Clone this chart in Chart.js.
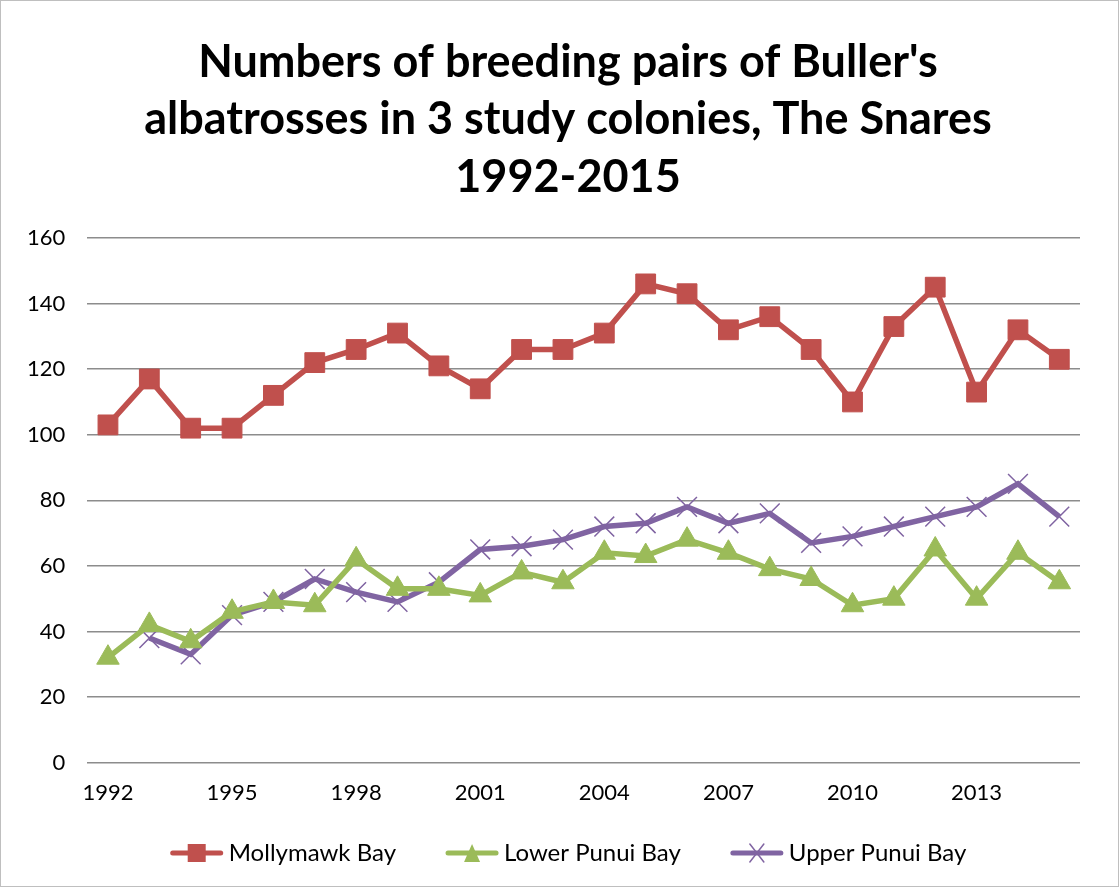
<!DOCTYPE html>
<html>
<head>
<meta charset="utf-8">
<script src="https://cdn.jsdelivr.net/npm/chart.js@4"></script>
<style>
    html, body { margin: 0; padding: 0; background: #fff; }
    #wrap { position: relative; width: 1117px; height: 885px; border: 1px solid #bfbfbf; }
</style>
</head>
<body>
<div id="wrap"><canvas id="chart"></canvas></div>
<script>
'use strict';

const years = ['1992', '1993', '1994', '1995', '1996', '1997', '1998', '1999', '2000', '2001', '2002', '2003',
    '2004', '2005', '2006', '2007', '2008', '2009', '2010', '2011', '2012', '2013', '2014', '2015'];
const mollymawk = [103, 117, 102, 102, 112, 122, 126, 131, 121, 114, 126, 126,
    131, 146, 143, 132, 136, 126, 110, 133, 145, 113, 132, 123];
const lowerPunui = [32, 42, 37, 46, 49, 48, 62, 53, 53, 51, 58, 55,
    64, 63, 68, 64, 59, 56, 48, 50, 65, 50, 64, 55];
const upperPunui = [null, 38, 33, 45, 49, 56, 52, 49, 55, 65, 66, 68,
    72, 73, 78, 73, 76, 67, 69, 72, 75, 78, 85, 75];

const titleLines = ["Numbers of breeding pairs of Buller's", 'albatrosses in 3 study colonies, The Snares', '1992-2015'];

const red = '#c0504d';
const green = '#9bbb59';
const purple = '#8064a2';

// marker used in the key, drawn the same way as the chart points
function drawMarker(g, style, cx, cy) {
    if (style === 'rect') {
        g.fillRect(cx - 9, cy - 9, 18, 18);
    } else if (style === 'triangle') {
        g.beginPath();
        g.moveTo(cx, cy - 9);
        g.lineTo(cx + 8, cy + 9);
        g.lineTo(cx - 8, cy + 9);
        g.closePath();
        g.fill();
    } else {
        g.lineWidth = 1.5;
        g.beginPath();
        g.moveTo(cx - 7, cy - 9);
        g.lineTo(cx + 7, cy + 9);
        g.moveTo(cx + 7, cy - 9);
        g.lineTo(cx - 7, cy + 9);
        g.stroke();
    }
}

// title is drawn by hand: it sits a bit right of the plot centre, like the original
const titleAndKey = {
    id: 'titleAndKey',
    afterDraw(chart) {
        const g = chart.ctx;
        const cx = 567;
        g.save();
        g.fillStyle = '#000';
        g.textAlign = 'center';
        g.textBaseline = 'middle';
        g.font = 'bold 45px Lato';
        titleLines.forEach((line, i) => g.fillText(line, cx, 61 + i * 57.5));

        // key below the axis
        g.font = '24px Lato';
        g.textAlign = 'left';
        const iconW = 54;
        const gap = 5;
        const between = 49;
        const sets = chart.data.datasets;
        const widths = sets.map(ds => iconW + gap + g.measureText(ds.label).width);
        const total = widths.reduce((a, b) => a + b, 0) + between * (sets.length - 1);
        let x = cx - total / 2;
        const y = 852;
        sets.forEach((ds, i) => {
            g.strokeStyle = ds.borderColor;
            g.fillStyle = ds.borderColor;
            g.lineWidth = 5;
            g.lineCap = 'round';
            g.beginPath();
            g.moveTo(x + 3, y);
            g.lineTo(x + iconW - 3, y);
            g.stroke();
            drawMarker(g, ds.pointStyle === 'crossRot' ? 'cross' : ds.pointStyle, x + iconW / 2, y);
            g.fillStyle = '#000';
            g.fillText(ds.label, x + iconW + gap, y);
            x += widths[i] + between;
        });
        g.restore();
    },
};

new Chart(document.getElementById('chart').getContext('2d'), {
    type: 'line',
    data: {
        labels: years,
        datasets: [
            {
                label: 'Mollymawk Bay',
                data: mollymawk,
                borderColor: red,
                backgroundColor: red,
                borderWidth: 5.5,
                pointStyle: 'rect',
                pointRadius: 14,
                pointBorderWidth: 1,
                tension: 0,
            },
            {
                label: 'Lower Punui Bay',
                data: lowerPunui,
                borderColor: green,
                backgroundColor: green,
                borderWidth: 5.5,
                pointStyle: 'triangle',
                pointRadius: 13,
                pointBorderWidth: 1,
                tension: 0,
            },
            {
                label: 'Upper Punui Bay',
                data: upperPunui,
                borderColor: purple,
                backgroundColor: purple,
                borderWidth: 5.5,
                pointStyle: 'crossRot',
                pointRadius: 14,
                pointBorderWidth: 1.5,
                tension: 0,
            },
        ],
    },
    options: {
        responsive: true,
        maintainAspectRatio: false,
        animation: false,
        layout: { padding: { left: 4, right: 38, top: 237, bottom: 71, }, },
        plugins: {
            title: { display: false, },
            legend: { display: false, },
            tooltip: { enabled: false, },
        },
        scales: {
            x: {
                offset: true,
                grid: { display: false, },
                border: { display: false, },
                ticks: {
                    color: '#000',
                    font: { family: 'Lato', size: 22, },
                    autoSkip: false,
                    maxRotation: 0,
                    padding: 9,
                    callback(value, index) {
                        return index % 3 === 0 ? years[index] : '';
                    },
                },
            },
            y: {
                min: 0,
                max: 160,
                ticks: {
                    stepSize: 20,
                    color: '#000',
                    font: { family: 'Lato', size: 22, },
                    padding: 22,
                },
                grid: { color: '#8c8c8c', lineWidth: 1.5, drawTicks: false, },
                border: { display: false, },
            },
        },
    },
    plugins: [titleAndKey],
});
</script>
</body>
</html>
